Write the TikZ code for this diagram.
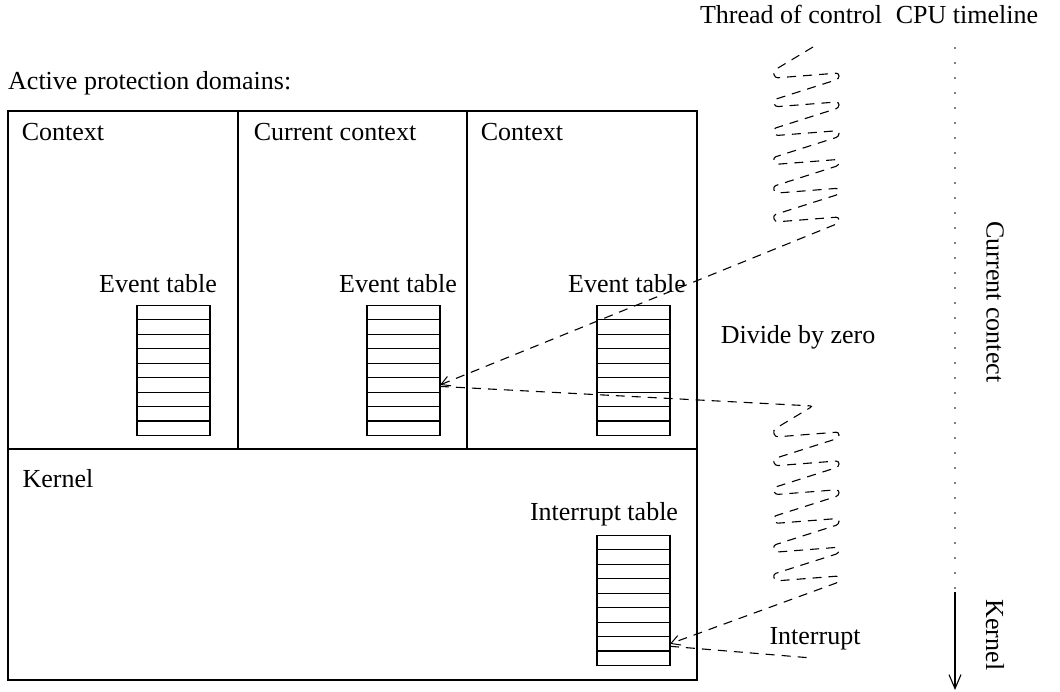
\documentclass[tikz,border=0pt]{standalone}
\usepackage{fontspec}
\setmainfont{Liberation Serif}
\usetikzlibrary{arrows.meta}
\begin{document}
\begin{tikzpicture}[x=1pt,y=-1pt,
  lbl/.style={font=\fontsize{26}{30}\selectfont, inner sep=0pt, anchor=base},
  frame/.style={line width=1.3pt},
  cell/.style={draw, line width=1.1pt, minimum width=73pt, minimum height=14.44pt,
               inner sep=0pt, outer sep=0pt},
  thread/.style={line width=1.1pt, dash pattern=on 9pt off 7pt, rounded corners=3pt},
  tip/.style={-{Straight Barb[length=9pt,width=10pt,line width=1pt]}},
  dotline/.style={line width=1.8pt, line cap=round, dash pattern=on 0pt off 15pt},
  timearrow/.style={line width=1.1pt, -{Straight Barb[length=14pt,width=12pt,line width=1.1pt]}}]
\useasboundingbox (0,0) rectangle (1060,692);

% protection domains
\draw[frame] (8,111) rectangle (697,680);
\draw[frame] (8,449) -- (697,449);
\draw[frame] (238,111) -- (238,449);
\draw[frame] (467,111) -- (467,449);

% headings
\node[lbl] (hthread) at (791,24) {Thread of control};
\node[lbl] (hcpu) at (967,24) {CPU timeline};
\node[lbl, anchor=base west] (hdomains) at (8,90) {Active protection domains:};
\node[lbl] (ctx1) at (63,141) {Context};
\node[lbl] (ctx2) at (335,141) {Current context};
\node[lbl] (ctx3) at (522,141) {Context};
\node[lbl] (kern) at (58,487) {Kernel};
\node[lbl] (ev1) at (158,293) {Event table};
\node[lbl] (ev2) at (398,293) {Event table};
\node[lbl] (ev3) at (627,293) {Event table};
\node[lbl] (intl) at (604,520) {Interrupt table};
\node[lbl] (divz) at (798,344) {Divide by zero};
\node[lbl] (intr) at (815,644) {Interrupt};
\node[lbl, rotate=-90, anchor=center] (tcur) at (995,302) {Current contect};
\node[lbl, rotate=-90, anchor=center] (tker) at (995,635) {Kernel};

% event tables and interrupt table
\foreach \t/\x in {t1/173.5, t2/403.5, t3/633.5}
  \foreach \r in {1,...,9}
    \node[cell] (\t-\r) at (\x,{305.5+14.44*(\r-0.5)}) {};
\foreach \r in {1,...,9}
  \node[cell] (it-\r) at (633.5,{535.5+14.44*(\r-0.5)}) {};

% CPU timeline
\coordinate (tl0) at (955,48);
\coordinate (tl1) at (955,592);
\coordinate (tl2) at (955,690);
\draw[dotline] (tl0) -- (tl1);
\draw[timearrow] (tl1) -- (tl2);

% thread of control: coil, trap into the current context, coil, interrupt
\coordinate (thtop) at (813,47);
\coordinate (thmid) at (813,406);
\coordinate (thend) at (812,658);
\draw[thread, tip] (thtop) -- (773,71)
  foreach \k in {0,...,4} {
    -- (775,{78+28.8*\k}) -- (839,{73+28.8*\k}) -- (839,{79+28.8*\k}) -- (773,{100+28.8*\k})
  }
  -- (775,222) -- (839,217) -- (839,223) -- (t2-6.east);
\draw[thread, tip] ([yshift=-1.5pt]t2-6.east) -- (thmid) -- (773,430)
  foreach \k in {0,...,4} {
    -- (775,{437+28.8*\k}) -- (839,{432+28.8*\k}) -- (839,{438+28.8*\k}) -- (773,{459+28.8*\k})
  }
  -- (775,581) -- (839,576) -- (839,582) -- (it-8.east);
\draw[thread] ([yshift=-2.5pt]it-8.east) -- (thend);
\end{tikzpicture}
\end{document}
